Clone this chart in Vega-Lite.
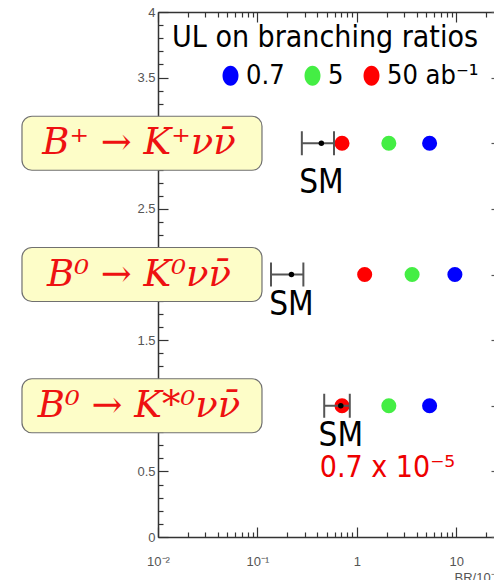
{
  "$schema": "https://vega.github.io/schema/vega-lite/v6.json",
  "width": 336,
  "height": 525,
  "autosize": {"type": "none"},
  "padding": {"left": 158, "top": 12, "right": 0, "bottom": 43},
  "background": "white",
  "config": {"view": {"stroke": null}},
  "datasets": {
    "ul": [
      {"row": 3, "lumi": "0.7", "ul": 5.4},
      {"row": 3, "lumi": "5", "ul": 2.1},
      {"row": 3, "lumi": "50 ab⁻¹", "ul": 0.71},
      {"row": 2, "lumi": "0.7", "ul": 9.7},
      {"row": 2, "lumi": "5", "ul": 3.6},
      {"row": 2, "lumi": "50 ab⁻¹", "ul": 1.2},
      {"row": 1, "lumi": "0.7", "ul": 5.4},
      {"row": 1, "lumi": "5", "ul": 2.1},
      {"row": 1, "lumi": "50 ab⁻¹", "ul": 0.71}
    ],
    "sm": [
      {"row": 3, "sm": 0.44, "lo": 0.28, "hi": 0.59, "note": ""},
      {"row": 2, "sm": 0.22, "lo": 0.137, "hi": 0.29, "note": ""},
      {"row": 1, "sm": 0.69, "lo": 0.47, "hi": 0.85, "note": "0.7 x 10⁻⁵"}
    ],
    "labels": [
      {"row": 3, "label": "B⁺ → K⁺\u03bd\u03bd\u0304"},
      {"row": 2, "label": "B⁰ → K⁰\u03bd\u03bd\u0304"},
      {"row": 1, "label": "B⁰ → K*⁰\u03bd\u03bd\u0304"}
    ],
    "heading": [
      {"text": "UL on branching ratios", "br": 0.01384, "row": 3.733}
    ]
  },
  "resolve": {"axis": {"x": "independent", "y": "independent"}},
  "layer": [
    {
      "data": {"name": "labels"},
      "mark": {"type": "tick", "orient": "horizontal", "size": 240, "thickness": 54, "cornerRadius": 10, "filled": true, "fill": "#fdfdc8", "stroke": "#707070", "strokeWidth": 1.2, "opacity": 1, "clip": false},
      "encoding": {
        "x": {"datum": 0.0069, "type": "quantitative", "scale": {"type": "log", "domain": [0.01, 24], "nice": false}, "axis": null},
        "y": {"field": "row", "type": "quantitative", "scale": {"domain": [0, 4], "nice": false, "zero": false}, "axis": null}
      }
    },
    {
      "data": {"name": "labels"},
      "mark": {"type": "text", "font": "DejaVu Serif", "fontStyle": "italic", "fontSize": 37, "fill": "#ee1111", "align": "center", "baseline": "middle", "dx": -3, "clip": false},
      "encoding": {
        "x": {"datum": 0.0069, "type": "quantitative", "axis": null},
        "y": {"field": "row", "type": "quantitative", "axis": null},
        "text": {"field": "label"}
      }
    },
    {
      "data": {"name": "heading"},
      "mark": {"type": "text", "font": "DejaVu Sans Condensed, DejaVu Sans", "fontSize": 30, "color": "black", "align": "left", "baseline": "alphabetic"},
      "encoding": {
        "x": {"field": "br", "type": "quantitative", "axis": null},
        "y": {"field": "row", "type": "quantitative", "axis": null},
        "text": {"field": "text"}
      }
    },
    {
      "data": {"name": "ul"},
      "mark": {"type": "circle", "size": 227, "opacity": 1},
      "encoding": {
        "x": {"field": "ul", "type": "quantitative", "scale": {"type": "log", "domain": [0.01, 24], "nice": false},
          "axis": {"orient": "bottom", "values": [0.01, 0.1, 1, 10], "tickSize": -10, "labelPadding": 28,
            "labelExpr": "datum.value < 0.05 ? '10⁻²' : datum.value < 0.5 ? '10⁻¹' : datum.value < 5 ? '1' : '10'",
            "labelFont": "Liberation Sans", "labelFontSize": 13, "labelColor": "#555555", "labelFlush": false,
            "domainColor": "#333333", "domainWidth": 1.5, "tickColor": "#333333", "tickWidth": 1.2, "grid": false,
            "title": "BR/10⁻⁵", "titleX": 296, "titleY": 34, "titleAlign": "left", "titleBaseline": "top", "titleAnchor": null,
            "titleFont": "Liberation Sans", "titleFontSize": 13, "titleFontWeight": "normal", "titleColor": "#555555"}},
        "y": {"field": "row", "type": "quantitative", "scale": {"domain": [0, 4], "nice": false, "zero": false},
          "axis": {"orient": "left", "values": [0, 0.5, 1, 1.5, 2, 2.5, 3, 3.5, 4], "format": "~g", "tickSize": -10, "labelPadding": 13,
            "labelFont": "Liberation Sans", "labelFontSize": 13, "labelColor": "#555555", "labelFlush": false,
            "domainColor": "#333333", "domainWidth": 1.5, "tickColor": "#333333", "tickWidth": 1.2, "grid": false, "title": null}},
        "color": {"field": "lumi", "type": "nominal",
          "scale": {"domain": ["0.7", "5", "50 ab⁻¹"], "range": ["#0000ff", "#44ee44", "#ff0000"]},
          "legend": {"orient": "none", "legendX": 59, "legendY": 50, "direction": "horizontal", "title": null,
            "labelFont": "DejaVu Sans Condensed, DejaVu Sans", "labelFontSize": 27, "labelColor": "black", "labelLimit": 300,
            "symbolSize": 400, "symbolType": "M0,-1A0.8,1 0 1,1 0,1A0.8,1 0 1,1 0,-1Z", "symbolOpacity": 1, "symbolStrokeWidth": 0,
            "labelOffset": 2, "columnPadding": 14, "padding": 0}}
      }
    },
    {
      "data": {"name": "sm"},
      "mark": {"type": "rule", "color": "#555555", "strokeWidth": 2},
      "encoding": {
        "x": {"field": "lo", "type": "quantitative",
          "axis": {"orient": "bottom", "values": [0.02, 0.03, 0.04, 0.05, 0.06, 0.07, 0.08, 0.09, 0.2, 0.3, 0.4, 0.5, 0.6, 0.7, 0.8, 0.9, 2, 3, 4, 5, 6, 7, 8, 9, 20],
            "tickSize": -5, "labels": false, "domain": false, "tickColor": "#333333", "tickWidth": 1.2, "grid": false, "title": null}},
        "x2": {"field": "hi"},
        "y": {"field": "row", "type": "quantitative",
          "axis": {"orient": "left", "values": [0.1, 0.2, 0.3, 0.4, 0.6, 0.7, 0.8, 0.9, 1.1, 1.2, 1.3, 1.4, 1.6, 1.7, 1.8, 1.9, 2.1, 2.2, 2.3, 2.4, 2.6, 2.7, 2.8, 2.9, 3.1, 3.2, 3.3, 3.4, 3.6, 3.7, 3.8, 3.9],
            "tickSize": -5, "labels": false, "domain": false, "tickColor": "#333333", "tickWidth": 1.2, "grid": false, "title": null}}
      }
    },
    {
      "data": {"name": "sm"},
      "mark": {"type": "tick", "orient": "vertical", "size": 24, "thickness": 2, "color": "#555555", "opacity": 1},
      "encoding": {
        "x": {"field": "lo", "type": "quantitative",
          "axis": {"orient": "top", "values": [0.01, 0.1, 1, 10], "tickSize": -10, "labels": false,
            "domainColor": "#333333", "domainWidth": 1.5, "tickColor": "#333333", "tickWidth": 1.2, "grid": false, "title": null}},
        "y": {"field": "row", "type": "quantitative",
          "axis": {"orient": "right", "values": [0, 0.5, 1, 1.5, 2, 2.5, 3, 3.5, 4], "tickSize": -3, "labels": false, "domain": false,
            "tickColor": "#555555", "tickWidth": 1.2, "grid": false, "title": null}}
      }
    },
    {
      "data": {"name": "sm"},
      "mark": {"type": "tick", "orient": "vertical", "size": 24, "thickness": 2, "color": "#555555", "opacity": 1},
      "encoding": {
        "x": {"field": "hi", "type": "quantitative",
          "axis": {"orient": "top", "values": [0.02, 0.03, 0.04, 0.05, 0.06, 0.07, 0.08, 0.09, 0.2, 0.3, 0.4, 0.5, 0.6, 0.7, 0.8, 0.9, 2, 3, 4, 5, 6, 7, 8, 9, 20],
            "tickSize": -5, "labels": false, "domain": false, "tickColor": "#333333", "tickWidth": 1.2, "grid": false, "title": null}},
        "y": {"field": "row", "type": "quantitative", "axis": null}
      }
    },
    {
      "data": {"name": "sm"},
      "mark": {"type": "circle", "size": 30, "color": "black", "opacity": 1},
      "encoding": {
        "x": {"field": "sm", "type": "quantitative", "axis": null},
        "y": {"field": "row", "type": "quantitative", "axis": null}
      }
    },
    {
      "data": {"name": "sm"},
      "transform": [{"filter": "datum.row < 3"}],
      "mark": {"type": "text", "text": "SM", "font": "DejaVu Sans Condensed, DejaVu Sans", "fontSize": 33, "color": "black", "align": "center", "baseline": "middle", "dy": 30},
      "encoding": {
        "x": {"field": "sm", "type": "quantitative", "axis": null},
        "y": {"field": "row", "type": "quantitative", "axis": null}
      }
    },
    {
      "data": {"name": "sm"},
      "transform": [{"filter": "datum.row == 3"}],
      "mark": {"type": "text", "text": "SM", "font": "DejaVu Sans Condensed, DejaVu Sans", "fontSize": 33, "color": "black", "align": "center", "baseline": "middle", "dy": 40},
      "encoding": {
        "x": {"field": "sm", "type": "quantitative", "axis": null},
        "y": {"field": "row", "type": "quantitative", "axis": null}
      }
    },
    {
      "data": {"name": "sm"},
      "mark": {"type": "text", "font": "DejaVu Sans Condensed, DejaVu Sans", "fontSize": 30, "color": "#ee0000", "align": "left", "baseline": "middle", "dx": -21, "dy": 62},
      "encoding": {
        "x": {"field": "sm", "type": "quantitative", "axis": null},
        "y": {"field": "row", "type": "quantitative", "axis": null},
        "text": {"field": "note"}
      }
    }
  ]
}
